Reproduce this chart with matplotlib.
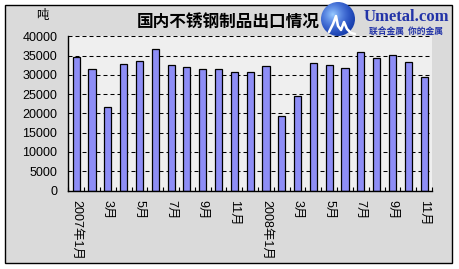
import numpy as np
import matplotlib
matplotlib.use("Agg")
import matplotlib.pyplot as plt
from matplotlib.patches import Rectangle, Circle

plt.rcParams['font.family'] = ['Liberation Sans', 'Noto Sans CJK SC', 'DejaVu Sans']

# Monthly export volume of stainless steel products (tonnes)
months = ['2007年1月', '2月', '3月', '4月', '5月', '6月', '7月', '8月', '9月', '10月',
          '11月', '12月', '2008年1月', '2月', '3月', '4月', '5月', '6月', '7月', '8月',
          '9月', '10月', '11月']
exports = [34550, 31450, 21650, 32750, 33550, 36650, 32500, 31980, 31450, 31450,
           30700, 30700, 32250, 19300, 24500, 33020, 32500, 31720, 36050, 34300,
           35080, 33270, 29450]
yticks = [0, 5000, 10000, 15000, 20000, 25000, 30000, 35000, 40000]

W, H = 459, 269
fig = plt.figure(figsize=(W / 100, H / 100), dpi=100)
fig.patch.set_facecolor('white')

# chart frame
frame = Rectangle((5 / W, 1 - 263 / H), 447 / W, 258 / H, transform=fig.transFigure,
                  facecolor='#dadada', edgecolor='black', linewidth=1.0, zorder=-5)
fig.add_artist(frame)

left, right = 68.3 / W, 432 / W
bottom, top = 1 - 190.5 / H, 1 - 36.3 / H
ax = fig.add_axes([left, bottom, right - left, top - bottom])
ax.set_zorder(2)
ax.set_facecolor('#efefef')

x = np.arange(len(months))
ax.bar(x, exports, width=0.45, color='#8e8ef6', edgecolor='black', linewidth=0.9, zorder=3)

ax.set_xlim(-0.5, len(months) - 0.5)
ax.set_ylim(0, 40000)
ax.set_yticks(yticks)
ax.set_yticklabels([str(v) for v in yticks], fontsize=9)
ax.tick_params(axis='y', length=0, pad=8)

ax.set_xticks(x[::2])
ax.set_xticklabels(months[::2], rotation=270, fontsize=9, va='top', ha='center')
ax.tick_params(axis='x', which='major', length=0, pad=7)
ax.set_xticks(np.arange(-0.5, len(months), 1.0), minor=True)
ax.tick_params(axis='x', which='minor', direction='in', length=3, width=0.8, color='black')

for v in yticks[1:]:
    ax.axhline(v, color='black', linewidth=0.75, linestyle=(0, (3.84, 2.88)), zorder=1)

for side in ('top', 'right'):
    ax.spines[side].set_visible(False)
for side in ('left', 'bottom'):
    ax.spines[side].set_linewidth(1.0)
    ax.spines[side].set_color('black')
    ax.spines[side].set_zorder(4)

# unit and title
fig.text(42 / W, 1 - 15 / H, '吨', fontsize=9, ha='center', va='center',
         family=['Noto Sans CJK SC'])
fig.text(228 / W, 1 - 22 / H, '国内不锈钢制品出口情况', fontsize=12, fontweight='bold',
         ha='center', va='center', family=['Noto Sans CJK SC'])

# site badge
lax = fig.add_axes([320 / W, 1 - 38 / H, 37 / W, 38 / H])
lax.set_zorder(3)
lax.set_xlim(0, 37)
lax.set_ylim(0, 38)
lax.axis('off')
gy, gx = np.mgrid[0:64, 0:64]
shade = np.clip(1 - np.hypot(gx - 22, gy - 40) / 60, 0, 1)
img = np.zeros((64, 64, 3))
img[..., 0] = 0.05 + 0.55 * shade ** 2
img[..., 1] = 0.20 + 0.60 * shade ** 2
img[..., 2] = 0.55 + 0.45 * shade
im = lax.imshow(img, extent=(1, 35, 2, 36), origin='lower', zorder=1, aspect='auto')
clip = Circle((18, 19), 17, transform=lax.transData)
im.set_clip_path(clip)
sx = np.array([9, 13, 16, 18, 21, 24, 27, 31, 35])
sy = np.array([6, 14, 22, 12, 8, 16, 9, 5, 4])
lax.plot(sx, sy, color='white', linewidth=1.8, solid_capstyle='round', zorder=2)

fig.text(406 / W, 1 - 17 / H, 'Umetal.com', fontsize=12, fontweight='bold', color='#2233a8',
         ha='center', va='center', family=['Liberation Serif'])
fig.text(406 / W, 1 - 31 / H, '联合金属  你的金属', fontsize=6.3, fontweight='bold', color='#2233a8',
         ha='center', va='center', family=['Noto Sans CJK SC'])

fig.savefig('out.png', dpi=100)
